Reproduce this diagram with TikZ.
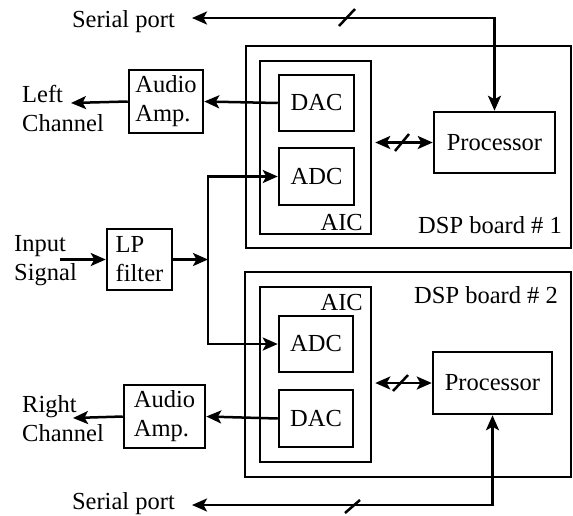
\documentclass[tikz,border=0pt]{standalone}
\usepackage{fontspec}
\setmainfont{Liberation Serif}
\usetikzlibrary{arrows.meta}
\begin{document}
\begin{tikzpicture}[x=1pt,y=-1pt,
  every node/.style={font=\fontsize{24.5}{29}\selectfont},
  box/.style={draw,line width=2.5pt,inner sep=0pt,align=left},
  lbl/.style={inner sep=0pt,align=left},
  conn/.style={line width=2.5pt},
  tip/.tip={Stealth[length=15pt,width=13pt,inset=3.5pt]},
  arr/.style={conn,-tip},
  darr/.style={conn,tip-tip},
]
\useasboundingbox (0,0) rectangle (573,515);
% boards
\node[box,minimum width=325pt,minimum height=202pt] (board1) at (408.5,147) {};
\node[box,minimum width=326pt,minimum height=205pt] (board2) at (408,374.5) {};
% AICs
\node[box,minimum width=111pt,minimum height=173pt] (aic1) at (315.5,147.5) {};
\node[box,minimum width=111pt,minimum height=175pt] (aic2) at (315.5,374.5) {};
% converters
\node[box,minimum width=75pt,minimum height=56pt] (dac1) at (316.5,103) {DAC};
\node[box,minimum width=75pt,minimum height=57pt] (adc1) at (316.5,176.5) {ADC};
\node[box,minimum width=74pt,minimum height=56pt] (adc2) at (316,344) {ADC};
\node[box,minimum width=74pt,minimum height=57pt] (dac2) at (316,418.5) {DAC};
% processors
\node[box,minimum width=121pt,minimum height=61pt] (proc1) at (494.5,142.5) {Processor};
\node[box,minimum width=119pt,minimum height=62pt] (proc2) at (492.5,383) {Processor};
% amps and filter
\node[box,minimum width=74pt,minimum height=63pt] (amp1) at (166,101.5) {Audio\\Amp.};
\node[box,minimum width=81pt,minimum height=63pt] (amp2) at (164.5,416.5) {Audio\\Amp.};
\node[box,minimum width=65pt,minimum height=61pt] (lp) at (139.5,259.5) {LP\\filter};
% labels
\node[lbl,anchor=base east] (spt1) at (175,27) {Serial port};
\node[lbl,anchor=base east] (spt2) at (175,509) {Serial port};
\node[lbl,anchor=base west] (lct) at (22,131) {Left\\Channel};
\node[lbl,anchor=base west] (inp) at (14,280) {Input\\Signal};
\node[lbl,anchor=base west] (rct) at (22,441) {Right\\Channel};
\node[lbl,anchor=base east] (aic1t) at (363,230) {AIC};
\node[lbl,anchor=base east] (b1t) at (562,233) {DSP board \# 1};
\node[lbl,anchor=base east] (aic2t) at (363,310) {AIC};
\node[lbl,anchor=base east] (b2t) at (558,303) {DSP board \# 2};
% free ends
\coordinate (sp1) at (192,18);
\coordinate (sp2) at (192,505);
\coordinate (lc) at (71,103);
\coordinate (rc) at (73,418);
\coordinate (in) at (60,259.5);
\coordinate (jn) at (208,259.5);
% connectors
\draw[darr] (sp1) -| (proc1.north);
\draw[darr] (sp2) -| (proc2.south);
\draw[arr] (dac1.west) -- (amp1.east);
\draw[arr] (amp1.west) -- (lc);
\draw[arr] (dac2.west) -- (amp2.east);
\draw[arr] (amp2.west) -- (rc);
\draw[arr] (in) -- (lp.west);
\draw[arr] (lp.east) -- (jn);
\draw[arr] (jn) |- (adc1.west);
\draw[arr] (jn) |- (adc2.west);
\draw[darr,shorten <=3pt] (aic1.east |- proc1.west) -- (proc1.west);
\draw[darr,shorten <=3pt] (aic2.east |- proc2.west) -- (proc2.west);
% bus slashes
\draw[conn] (339,26) -- (355,9);
\draw[conn] (345,513) -- (360,500);
\draw[conn] (395,151) -- (409,134);
\draw[conn] (393,391) -- (408,375);
\end{tikzpicture}
\end{document}
